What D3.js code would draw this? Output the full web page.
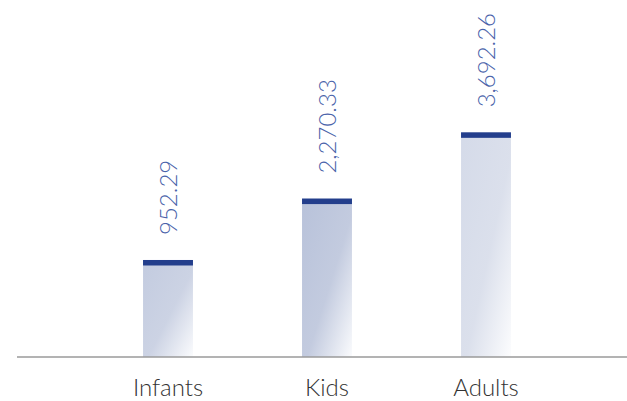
<!DOCTYPE html>
<html>
<head>
<meta charset="utf-8">
<script src="https://cdn.jsdelivr.net/npm/d3@7"></script>
<style>
  body { margin: 0; background: #fff; }
  text { font-family: Lato, "Open Sans", sans-serif; font-weight: 300; }
</style>
</head>
<body>
<script>
var categories = ["Infants", "Kids", "Adults"];
var values = [952.29, 2270.33, 3692.26];
var barOpacity = [0.85, 1, 0.6];

var width = 627;
var height = 401;
var svg = d3.select("body")
  .append("svg")
  .attr("width", width)
  .attr("height", height);

var x = d3.scaleBand()
  .domain(categories)
  .range([88.5, 565.5])
  .paddingInner(0.686)
  .paddingOuter(0.343);
var y = d3.scaleLinear()
  .domain([-1130, 4000])
  .range([357, 118]);

var defs = svg.append("defs");
var grad = defs.append("linearGradient")
  .attr("id", "barGrad")
  .attr("x1", 0).attr("y1", 0)
  .attr("x2", 1).attr("y2", 1);
grad.append("stop").attr("offset", "0%").attr("stop-color", "#b8c2da");
grad.append("stop").attr("offset", "55%").attr("stop-color", "#c3cbdf");
grad.append("stop").attr("offset", "100%").attr("stop-color", "#fafbfd");

var fmt = d3.format(",.2f");
var barg = svg.append("g");
for (var i = 0; i < categories.length; i ++) {
  var bx = x(categories[i]);
  var barTop = y(values[i]);
  barg.append("rect")
    .attr("x", bx)
    .attr("y", barTop)
    .attr("width", x.bandwidth())
    .attr("height", y(y.domain()[0]) - barTop)
    .attr("fill", "url(#barGrad)")
    .attr("opacity", barOpacity[i]);
  barg.append("rect")
    .attr("x", bx)
    .attr("y", barTop)
    .attr("width", x.bandwidth())
    .attr("height", 5.5)
    .attr("fill", "#233e8c");
  var cx = bx + x.bandwidth() / 2;
  barg.append("text")
    .attr("transform", "translate(" + (cx + 9) + " " + (barTop - 25) + ") rotate(-90)")
    .attr("fill", "#4a63aa")
    .attr("font-size", 24)
    .text(fmt(values[i]));
}

var axisg = svg.append("g")
  .attr("transform", "translate(0," + y(y.domain()[0]) + ")")
  .call(d3.axisBottom(x).tickSize(0).tickPadding(22));
axisg.select(".domain").remove();
axisg.append("line")
  .attr("x1", 17).attr("x2", 627)
  .attr("y1", 0).attr("y2", 0)
  .attr("stroke", "#9a9a9a")
  .attr("stroke-width", 1.5);
axisg.selectAll(".tick text")
  .attr("font-family", "Lato, sans-serif")
  .attr("font-size", 24)
  .attr("fill", "#333");
</script>
</body>
</html>
